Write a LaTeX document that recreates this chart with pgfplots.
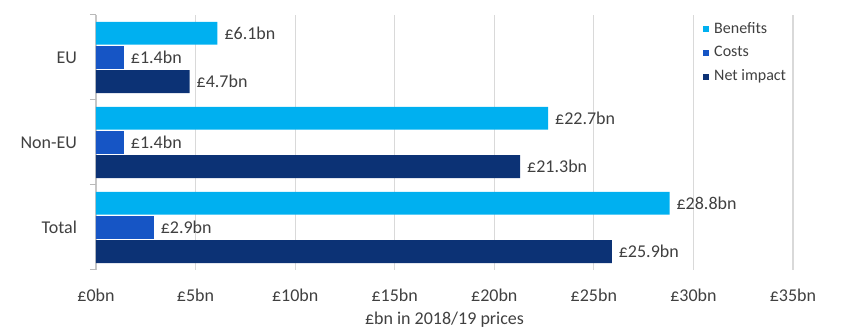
\documentclass[border=0pt]{standalone}
\usepackage{pgfplots}
\pgfplotsset{compat=1.18}
\usepackage{fontspec}
\setmainfont{Carlito}
\definecolor{cBen}{HTML}{00B0F0}
\definecolor{cCost}{HTML}{1655C5}
\definecolor{cNet}{HTML}{0C3275}
\definecolor{txt}{HTML}{404040}
\definecolor{gridc}{HTML}{D9D9D9}
\begin{document}
\begin{tikzpicture}
\useasboundingbox (-48pt,-32.5pt) rectangle (377pt,135pt);
\begin{axis}[
  at={(0,0)}, anchor=south west,
  scale only axis, width=348.5pt, height=127.5pt,
  xbar, bar width=0.27,
  xmin=0, xmax=35, ymin=-0.5, ymax=2.5,
  /pgf/number format/assume math mode=true,
  font=\fontsize{9}{11}\selectfont,
  xtick={0,5,...,35},
  xticklabel={£\pgfmathprintnumber{\tick}bn},
  ytick={0,1,2}, yticklabels={Total,Non-EU,EU},
  extra y ticks={-0.5,0.5,1.5,2.5}, extra y tick labels={},
  extra y tick style={major tick length=3pt, tick align=outside, grid=none},
  major tick length=0pt,
  tick style={draw=gray!55, line width=0.5pt},
  tick label style={text=txt},
  yticklabel style={xshift=-6pt},
  xticklabel style={yshift=-6pt},
  axis x line*=bottom,
  axis y line*=left,
  x axis line style={draw=none},
  y axis line style={draw=gray!45, line width=0.6pt},
  xmajorgrids=true,
  major grid style={draw=gridc, line width=0.6pt},
  xlabel={£bn in 2018/19 prices},
  xlabel style={at={(axis description cs:0.5,-0.196)}, anchor=center, text=txt},
  point meta=x,
  nodes near coords={£\pgfmathprintnumber[fixed,fixed zerofill,precision=1]{\pgfplotspointmeta}bn},
  every node near coord/.append style={text=txt, font=\fontsize{9}{11}\selectfont},
  legend style={at={(0.862,1.005)}, anchor=north west, draw=none, fill=none,
    font=\fontsize{8}{10}\selectfont, text=txt, row sep=1pt,
    nodes={inner xsep=2.5pt}},
  legend cell align=left,
  legend image code/.code={\fill[#1] (0pt,-1.5pt) rectangle (3pt,1.5pt);},
]
\addplot[fill=cBen, draw=none, bar shift=0.285] coordinates {(28.8,0) (22.7,1) (6.1,2)};
\addplot[fill=cCost, draw=none, bar shift=0] coordinates {(2.9,0) (1.4,1) (1.4,2)};
\addplot[fill=cNet, draw=none, bar shift=-0.285] coordinates {(25.9,0) (21.3,1) (4.7,2)};
\legend{Benefits,Costs,Net impact}
\end{axis}
\end{tikzpicture}
\end{document}
